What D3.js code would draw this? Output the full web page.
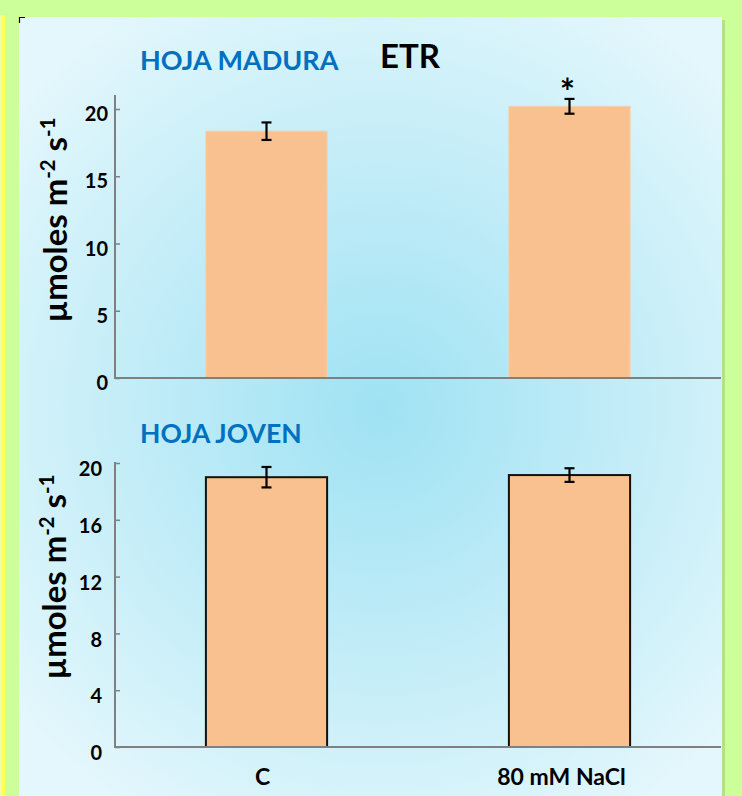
<!DOCTYPE html>
<html>
<head>
<meta charset="utf-8">
<script src="https://cdn.jsdelivr.net/npm/d3@7"></script>
<style>
  html, body { margin: 0; padding: 0; background: #ccff99; }
  svg { display: block; }
  text { font-family: Lato, "Open Sans", sans-serif; font-weight: bold; }
</style>
</head>
<body>
<svg id="chart" width="742" height="796"></svg>
<script>
// ETR (electron transport rate), mature vs young leaves
const categories = ["C", "80 mM NaCl"];
const maduraValues = [18.35, 20.2];
const maduraErrors = [0.65, 0.55];
const jovenValues = [19.0, 19.15];
const jovenErrors = [0.72, 0.48];
const maduraTicks = [0, 5, 10, 15, 20];
const jovenTicks = [0, 4, 8, 12, 16, 20];
const significance = ["", "*"];

const svg = d3.select("#chart");
const W = 742, H = 796;

// page frame: yellow strip, panel shadow and gradient panel
svg.append("rect").attr("x", 0).attr("y", 0).attr("width", W).attr("height", H).attr("fill", "#ccff99");
svg.append("rect").attr("x", 2).attr("y", 15).attr("width", 3).attr("height", H - 15).attr("fill", "#ffff55");
svg.append("rect").attr("x", 0).attr("y", 15).attr("width", 2).attr("height", H - 15).attr("fill", "#eeffaa");

const defs = svg.append("defs");
const grad = defs.append("radialGradient")
  .attr("id", "panelGrad")
  .attr("gradientUnits", "userSpaceOnUse")
  .attr("cx", 380).attr("cy", 410).attr("r", 470);
grad.append("stop").attr("offset", "0%").attr("stop-color", "#9fe2f3");
grad.append("stop").attr("offset", "55%").attr("stop-color", "#c4edf8");
grad.append("stop").attr("offset", "100%").attr("stop-color", "#e3f7fc");

svg.append("rect").attr("x", 22).attr("y", 20).attr("width", 703).attr("height", H).attr("fill", "#b5e08a");
svg.append("rect").attr("x", 19).attr("y", 17).attr("width", 703).attr("height", H).attr("fill", "url(#panelGrad)");
svg.append("path").attr("d", "M19.5,23 V17.5 H25").attr("fill", "none").attr("stroke", "#000").attr("stroke-width", 1.2);

const x = d3.scaleBand().domain(categories).range([115, 721]).paddingInner(0.6).paddingOuter(0.3);

// rotated unit label, sized so that it spans the given length
function unitLabel(g, cx, cy, span) {
  const yt = g.append("text")
    .attr("transform", `translate(${cx},${cy}) rotate(-90)`)
    .attr("text-anchor", "middle")
    .attr("fill", "#000");
  const build = size => {
    yt.selectAll("tspan").remove();
    yt.attr("font-size", size);
    const sup = size * 0.62, lift = size * 0.38;
    yt.append("tspan").text("µmoles m");
    yt.append("tspan").attr("font-size", sup).attr("dy", -lift).text("-2");
    yt.append("tspan").attr("dy", lift).text(" s");
    yt.append("tspan").attr("font-size", sup).attr("dy", -lift).text("-1");
  };
  build(28);
  const w = yt.node().getBBox().width;
  build(28 * span / w);
}

function drawPanel(cfg) {
  const y = d3.scaleLinear().domain([0, 20]).range([cfg.y0, cfg.y20]);
  const g = svg.append("g");

  // bars
  g.selectAll("rect.bar").data(cfg.values).join("rect")
    .attr("class", "bar")
    .attr("x", (d, i) => x(categories[i]))
    .attr("width", x.bandwidth())
    .attr("y", d => y(d))
    .attr("height", d => y(0) - y(d))
    .attr("fill", "#f9c18f")
    .attr("stroke", cfg.outline ? "#111" : "#f5cfa8")
    .attr("stroke-width", cfg.outline ? 2 : 1);

  // error bars
  const eb = g.selectAll("g.err").data(cfg.values).join("g").attr("class", "err");
  eb.each(function (d, i) {
    const cx = x(categories[i]) + x.bandwidth() / 2;
    const e = cfg.errors[i];
    const s = d3.select(this);
    s.append("line").attr("x1", cx).attr("x2", cx).attr("y1", y(d + e)).attr("y2", y(d - e));
    s.append("line").attr("x1", cx - 5).attr("x2", cx + 5).attr("y1", y(d + e)).attr("y2", y(d + e));
    s.append("line").attr("x1", cx - 5).attr("x2", cx + 5).attr("y1", y(d - e)).attr("y2", y(d - e));
  });
  eb.selectAll("line").attr("stroke", "#000").attr("stroke-width", 2.2);

  // significance marks
  if (cfg.marks) {
    g.selectAll("text.sig").data(cfg.marks).join("text")
      .attr("class", "sig")
      .attr("x", (d, i) => x(categories[i]) + x.bandwidth() / 2 - 2)
      .attr("y", (d, i) => y(cfg.values[i] + cfg.errors[i]) + 6)
      .attr("text-anchor", "middle")
      .attr("font-size", 36)
      .text(d => d);
  }

  // y axis
  const yAxis = d3.axisRight(y).tickValues(cfg.ticks).tickSize(5).tickFormat(d3.format("d"));
  const ay = g.append("g").attr("transform", "translate(115,0)").call(yAxis);
  ay.select(".domain").remove();
  ay.selectAll(".tick line").attr("stroke", "#808080").attr("stroke-width", 1.5);
  ay.selectAll(".tick text")
    .attr("x", cfg.labelX).attr("text-anchor", "end")
    .attr("font-size", 20).attr("fill", "#000")
    .attr("dy", cfg.labelDy);
  g.append("line").attr("x1", 115).attr("x2", 115).attr("y1", cfg.axisTop).attr("y2", y(0) + 1)
    .attr("stroke", "#808080").attr("stroke-width", 2);
  g.append("line").attr("x1", 114).attr("x2", 721).attr("y1", y(0)).attr("y2", y(0))
    .attr("stroke", "#808080").attr("stroke-width", 2);

  unitLabel(g, cfg.titleX, cfg.titleY, 205);

  // panel heading
  g.append("text").attr("x", 140).attr("y", cfg.headY)
    .attr("font-size", cfg.headSize).attr("fill", "#0070c0").text(cfg.heading);
}

drawPanel({
  y0: 378, y20: 109, axisTop: 95, values: maduraValues, errors: maduraErrors,
  ticks: maduraTicks, outline: false, marks: significance, heading: "HOJA MADURA",
  headY: 70, headSize: 27, titleX: 67, titleY: 220, labelX: -7, labelDy: "0.58em"
});
drawPanel({
  y0: 747, y20: 463, axisTop: 462, values: jovenValues, errors: jovenErrors,
  ticks: jovenTicks, outline: true, marks: null, heading: "HOJA JOVEN",
  headY: 443, headSize: 26.5, titleX: 66, titleY: 577, labelX: -13, labelDy: "0.63em"
});

// chart title
svg.append("text").attr("x", 380).attr("y", 68).attr("font-size", 33).attr("fill", "#000").text("ETR");

// category labels
svg.selectAll("text.cat").data(categories).join("text")
  .attr("class", "cat")
  .attr("x", (d, i) => x(d) + x.bandwidth() / 2 + (i === 0 ? -4 : -8))
  .attr("y", 785)
  .attr("text-anchor", "middle")
  .attr("font-size", 23)
  .attr("fill", "#000")
  .text(d => d);
</script>
</body>
</html>
